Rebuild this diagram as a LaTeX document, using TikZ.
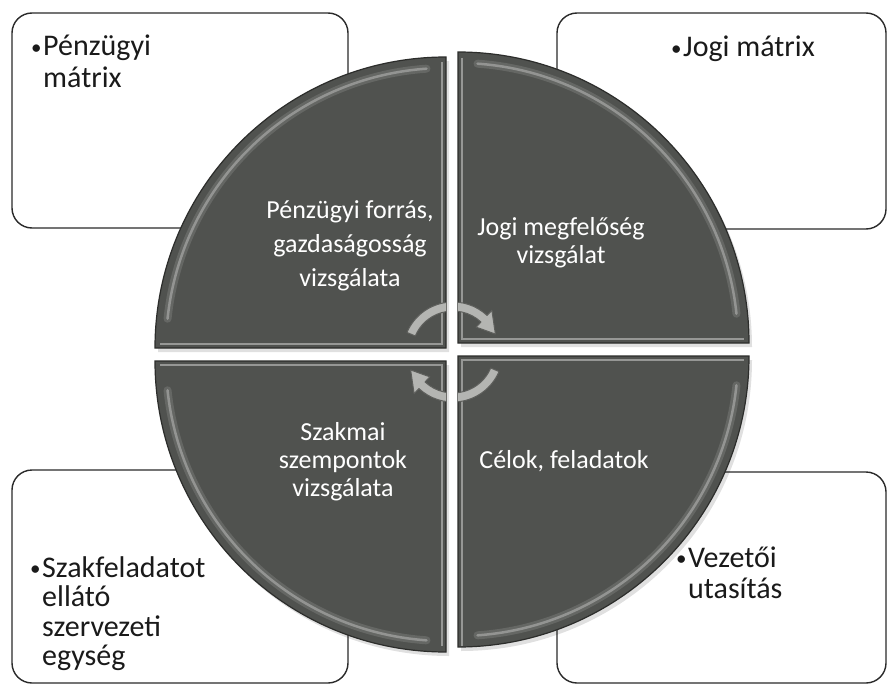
\documentclass[tikz,border=0pt]{standalone}
\usepackage{fontspec}
\setmainfont{Carlito}
\definecolor{quadfill}{HTML}{50524F}
\definecolor{quadline}{HTML}{2C2D2B}
\definecolor{boxline}{HTML}{2A2A2A}
\definecolor{boxtext}{HTML}{1A1A1A}
\definecolor{arrowfill}{HTML}{B4B5B2}
\definecolor{arrowline}{HTML}{5E5F5C}
\newcommand{\smbul}{\llap{{\fontsize{21}{21}\selectfont\raisebox{1.5pt}{•}}\kern1.5pt}}
\begin{document}
\begin{tikzpicture}[x=1pt,y=-1pt,
  box/.style={draw=boxline,line width=1.4pt,rounded corners=20pt,fill=white,inner sep=0pt},
  quad/.style={fill=quadfill,draw=quadline,line width=1.2pt},
  shad/.style={fill=black,opacity=.12},
  hlwide/.style={draw=white,opacity=.12,line width=8pt,line cap=round},
  hl/.style={draw=white,opacity=.30,line width=2.5pt,line cap=round},
  edgehl/.style={draw=white,opacity=.40,line width=2pt},
  qtext/.style={text=white,inner sep=0pt,anchor=base},
  btext/.style={text=boxtext,inner sep=0pt,anchor=base west},
  cyc/.style={fill=arrowfill,draw=arrowline,line width=1pt,line join=round}
]
\useasboundingbox (0,0) rectangle (887,685);
\fill[white] (0,0) rectangle (887,685);

% corner boxes
\node[box,minimum width=336pt,minimum height=215pt] (b1) at (180,120.5) {};
\node[box,minimum width=329pt,minimum height=216pt] (b2) at (721.5,121) {};
\node[box,minimum width=336pt,minimum height=213pt] (b3) at (180,576.5) {};
\node[box,minimum width=329pt,minimum height=211pt] (b4) at (721.5,577.5) {};

% shadow of the circle
\begin{scope}[shift={(3,4)}]
\path[shad] (446,348) -- ++(-291,0) arc[start angle=180,end angle=270,radius=291] -- cycle;
\path[shad] (458,343) -- ++(0,-291) arc[start angle=270,end angle=360,radius=291] -- cycle;
\path[shad] (458,356) -- ++(291,0) arc[start angle=0,end angle=90,radius=291] -- cycle;
\path[shad] (446,361) -- ++(0,291) arc[start angle=90,end angle=180,radius=291] -- cycle;
\end{scope}

% quadrants
\path[quad] (446,348) -- ++(-291,0) arc[start angle=180,end angle=270,radius=291] -- cycle;
\path[quad] (458,343) -- ++(0,-291) arc[start angle=270,end angle=360,radius=291] -- cycle;
\path[quad] (458,356) -- ++(291,0) arc[start angle=0,end angle=90,radius=291] -- cycle;
\path[quad] (446,361) -- ++(0,291) arc[start angle=90,end angle=180,radius=291] -- cycle;

% bevel highlights
\foreach \st in {hlwide,hl}{
\draw[\st] (446,348) ++(186:280) arc[start angle=186,end angle=266,radius=280];
\draw[\st] (458,343) ++(274:280) arc[start angle=274,end angle=354,radius=280];
\draw[\st] (458,356) ++(6:280) arc[start angle=6,end angle=86,radius=280];
\draw[\st] (446,361) ++(94:280) arc[start angle=94,end angle=174,radius=280];
}
\draw[edgehl] (442,62) -- (442,344) -- (160,344);
\draw[edgehl] (462,58) -- (462,339) -- (744,339);
\draw[edgehl] (462,646) -- (462,360) -- (744,360);
\draw[edgehl] (442,646) -- (442,365) -- (160,365);

% circular arrows, cut by the gaps
\coordinate (c) at (453,352);
\begin{scope}
\clip (446,348) -- ++(-291,0) arc[start angle=180,end angle=270,radius=291] -- cycle
      (458,343) -- ++(0,-291) arc[start angle=270,end angle=360,radius=291] -- cycle
      (458,356) -- ++(291,0) arc[start angle=0,end angle=90,radius=291] -- cycle
      (446,361) -- ++(0,291) arc[start angle=90,end angle=180,radius=291] -- cycle;
\path[cyc] ([shift={(203:50)}]c) arc[start angle=203,end angle=313,radius=50]
  -- ([shift={(313:57)}]c) -- ([shift={(337:46)}]c) -- ([shift={(313:34)}]c)
  -- ([shift={(313:41)}]c) arc[start angle=313,end angle=203,radius=41] -- cycle;
\path[cyc] ([shift={(23:50)}]c) arc[start angle=23,end angle=133,radius=50]
  -- ([shift={(133:57)}]c) -- ([shift={(157:46)}]c) -- ([shift={(133:34)}]c)
  -- ([shift={(133:41)}]c) arc[start angle=133,end angle=23,radius=41] -- cycle;
\end{scope}

% quadrant texts
\node[qtext,font=\fontsize{26}{34}\selectfont] (q1) at (350,218)
  {\begin{tabular}[t]{@{}c@{}}Pénzügyi forrás,\\gazdaságosság\\vizsgálata\end{tabular}};
\node[qtext,font=\fontsize{26}{28.5}\selectfont] (q2) at (561,235)
  {\begin{tabular}[t]{@{}c@{}}Jogi megfelőség\\vizsgálat\end{tabular}};
\node[qtext,font=\fontsize{26}{28}\selectfont] (q3) at (343,440)
  {\begin{tabular}[t]{@{}c@{}}Szakmai\\szempontok\\vizsgálata\end{tabular}};
\node[qtext,font=\fontsize{26}{28}\selectfont] (q4) at (564,468) {Célok, feladatok};

% box texts
\node[btext,font=\fontsize{30}{31.5}\selectfont] (t1) at (43,56)
  {\begin{tabular}[t]{@{}l@{}}\smbul Pénzügyi\\mátrix\end{tabular}};
\node[btext,font=\fontsize{30}{31.5}\selectfont] (t2) at (683,57)
  {\begin{tabular}[t]{@{}l@{}}\smbul Jogi mátrix\end{tabular}};
\node[btext,font=\fontsize{30}{29.5}\selectfont] (t3) at (42,577)
  {\begin{tabular}[t]{@{}l@{}}\smbul Szakfeladatot\\ellátó\\szervezeti\\egység\end{tabular}};
\node[btext,font=\fontsize{30}{31}\selectfont] (t4) at (688,567)
  {\begin{tabular}[t]{@{}l@{}}\smbul Vezetői\\utasítás\end{tabular}};
\end{tikzpicture}
\end{document}
